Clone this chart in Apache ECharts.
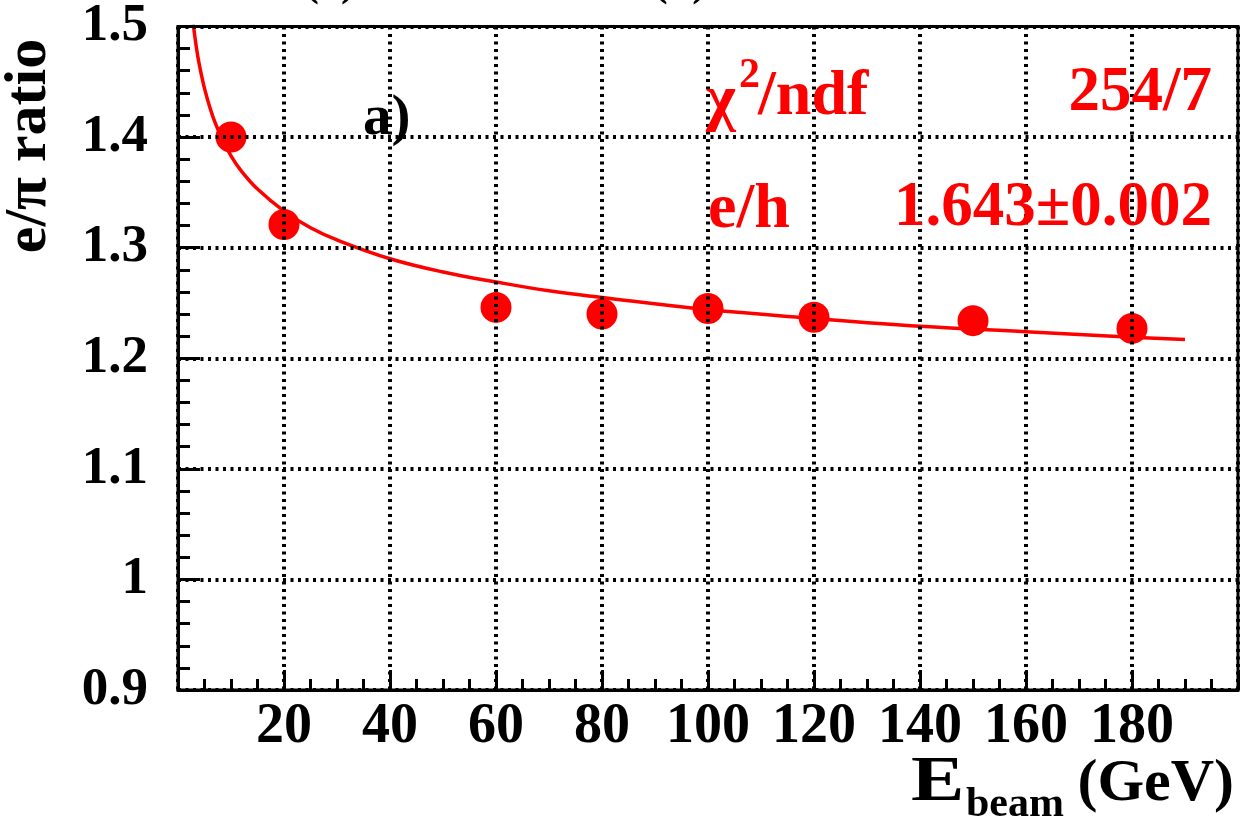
<!DOCTYPE html>
<html>
<head>
<meta charset="utf-8">
<script src="https://cdn.jsdelivr.net/npm/echarts@6/dist/echarts.min.js"></script>
<style>
  html, body { margin: 0; padding: 0; background: #fff; }
  #chart { width: 1248px; height: 823px; }
</style>
</head>
<body>
<div id="chart"></div>
<script>
// Measured e/pi ratio versus beam energy
const beamEnergy = [10, 20, 60, 80, 100, 120, 150, 180];
const epiRatio   = [1.400, 1.321, 1.246, 1.240, 1.245, 1.237, 1.234, 1.227];

// Fitted curve (e/h = 1.643)
const fitEnergy = [2.8, 3.5, 4, 5, 6, 7, 8, 10, 12, 15, 20, 25, 30, 40, 50, 60, 70, 80, 100, 120, 140, 160, 180, 190];
const fitRatio  = [1.505, 1.480, 1.466, 1.444, 1.427, 1.413, 1.402, 1.383, 1.369, 1.353, 1.333, 1.318,
                   1.307, 1.290, 1.278, 1.269, 1.261, 1.255, 1.244, 1.236, 1.229, 1.224, 1.219, 1.217];

// Labelled ticks
const xTickLabels = [20, 40, 60, 80, 100, 120, 140, 160, 180];
const yTickLabels = [0.9, 1, 1.1, 1.2, 1.3, 1.4, 1.5];

const SERIF = '"Liberation Serif", "DejaVu Serif", serif';
const RED = '#ff0000';

const gridDots = { color: '#000', width: 4, type: [3, 4.5] };

const chart = echarts.init(document.getElementById('chart'));

function txt(text, x, y, size, color, align, extra) {
  return Object.assign({
    type: 'text',
    x: x, y: y,
    z: 10,
    style: {
      text: text,
      fill: color,
      fontFamily: SERIF,
      fontWeight: 'bold',
      fontSize: size,
      align: align || 'left',
      verticalAlign: 'middle'
    }
  }, extra || {});
}

chart.setOption({
  animation: false,
  backgroundColor: '#fff',
  grid: {
    left: 178, right: 10, top: 23, bottom: 133,
    show: true,
    borderColor: '#000',
    borderWidth: 3,
    backgroundColor: 'transparent'
  },
  xAxis: {
    type: 'value',
    min: 0, max: 200, interval: 20,
    z: 5,
    axisLine: { show: true, lineStyle: { color: '#000', width: 3 } },
    axisTick: { show: true, inside: true, length: 20, lineStyle: { color: '#000', width: 3 } },
    minorTick: { show: true, splitNumber: 4, length: 11, lineStyle: { color: '#000', width: 3 } },
    splitLine: { show: true, lineStyle: gridDots },
    axisLabel: {
      margin: 10,
      color: '#000',
      fontFamily: SERIF,
      fontWeight: 'bold',
      fontSize: 56,
      formatter: v => (xTickLabels.indexOf(v) >= 0 ? String(v) : '')
    }
  },
  yAxis: {
    type: 'value',
    min: 0.9, max: 1.5, interval: 0.1,
    z: 5,
    axisLine: { show: true, lineStyle: { color: '#000', width: 3 } },
    axisTick: { show: true, inside: true, length: 22, lineStyle: { color: '#000', width: 3 } },
    minorTick: { show: true, splitNumber: 5, length: 12, lineStyle: { color: '#000', width: 3 } },
    splitLine: { show: true, lineStyle: gridDots },
    axisLabel: {
      margin: 30,
      color: '#000',
      fontFamily: SERIF,
      fontWeight: 'bold',
      fontSize: 53,
      formatter: v => {
        const hit = yTickLabels.find(t => Math.abs(t - v) < 1e-6);
        return hit === undefined ? '' : String(hit);
      }
    }
  },
  series: [
    {
      name: 'fit',
      type: 'line',
      z: 1,
      data: fitEnergy.map((e, i) => [e, fitRatio[i]]),
      smooth: 0.4,
      showSymbol: false,
      symbol: 'none',
      clip: true,
      lineStyle: { color: RED, width: 3.5 }
    },
    {
      name: 'data',
      type: 'scatter',
      z: 2,
      data: beamEnergy.map((e, i) => [e, epiRatio[i]]),
      symbol: 'circle',
      symbolSize: 31,
      itemStyle: { color: RED, opacity: 1 }
    }
  ],
  graphic: [
    // panel labels cut by the top edge
    txt('(a)', 330, -16, 44, '#000', 'center'),
    txt('(b)', 680, -16, 44, '#000', 'center'),
    // axis titles
    txt('e/\u03c0 ratio', 29, 146, 60, '#000', 'center', { rotation: Math.PI / 2 }),
    txt('E', 911, 783, 64, '#000', 'left', { scaleX: 1.25 }),
    txt('beam', 966, 805, 42, '#000', 'left'),
    txt('(GeV)', 1234, 784, 60, '#000', 'right'),
    // panel tag
    txt('a)', 363, 119, 57, '#000', 'left'),
    // fit statistics
    txt('\u03c7', 706, 101, 64, RED, 'left'),
    txt('2', 739, 76, 42, RED, 'left'),
    txt('/ndf', 758, 97, 64, RED, 'left'),
    txt('254/7', 1212, 94, 63, RED, 'right'),
    txt('e/h', 708, 210, 64, RED, 'left'),
    txt('1.643\u00b10.002', 1212, 209, 63, RED, 'right')
  ]
});
</script>
</body>
</html>
